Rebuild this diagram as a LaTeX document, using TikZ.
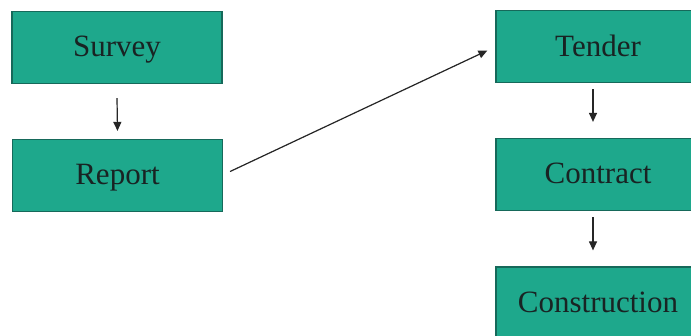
\documentclass[tikz,border=0pt]{standalone}
\usepackage{fontspec}
\setmainfont{Liberation Serif}
\usetikzlibrary{arrows.meta}
\definecolor{boxfill}{RGB}{30,168,140}
\definecolor{boxline}{RGB}{22,105,90}
\definecolor{txt}{RGB}{25,35,35}
\begin{document}
\begin{tikzpicture}[x=1pt,y=-1pt,
  stepbox/.style={draw=boxline,line width=1.2pt,fill=boxfill,minimum width=210pt,minimum height=72pt,inner sep=0pt,text=txt,font=\fontsize{31}{36}\selectfont,text depth=2pt},
  rbox/.style={stepbox,minimum width=204pt},
  arr/.style={-{Triangle[length=9pt,width=8pt]},line width=1.2pt,draw=black!85,fill=black!85}]
\useasboundingbox (0,0) rectangle (691,336);
\clip (0,0) rectangle (691,336);
\fill[white] (0,0) rectangle (691,336);
\node[stepbox] (survey) at (117,47.5) {Survey};
\node[stepbox] (report) at (117.5,175.5) {Report};
\node[rbox] (tender) at (598,46.5) {Tender};
\node[rbox] (contract) at (598,174.5) {Contract};
\node[rbox] (construction) at (598,303) {Construction};
\draw[arr] ([yshift=-14pt]survey.south) -- ([yshift=8pt]report.north);
\draw[arr] ([xshift=-5pt,yshift=-6pt]tender.south) -- ([xshift=-5pt,yshift=16pt]contract.north);
\draw[arr] ([xshift=-5pt,yshift=-6pt]contract.south) -- ([xshift=-5pt,yshift=16pt]construction.north);
\coordinate (dstart) at ([xshift=7pt,yshift=4pt]report.east);
\coordinate (dend) at ([xshift=-8pt,yshift=-4pt]tender.west);
\draw[arr] (dstart) -- (dend);
\end{tikzpicture}
\end{document}
